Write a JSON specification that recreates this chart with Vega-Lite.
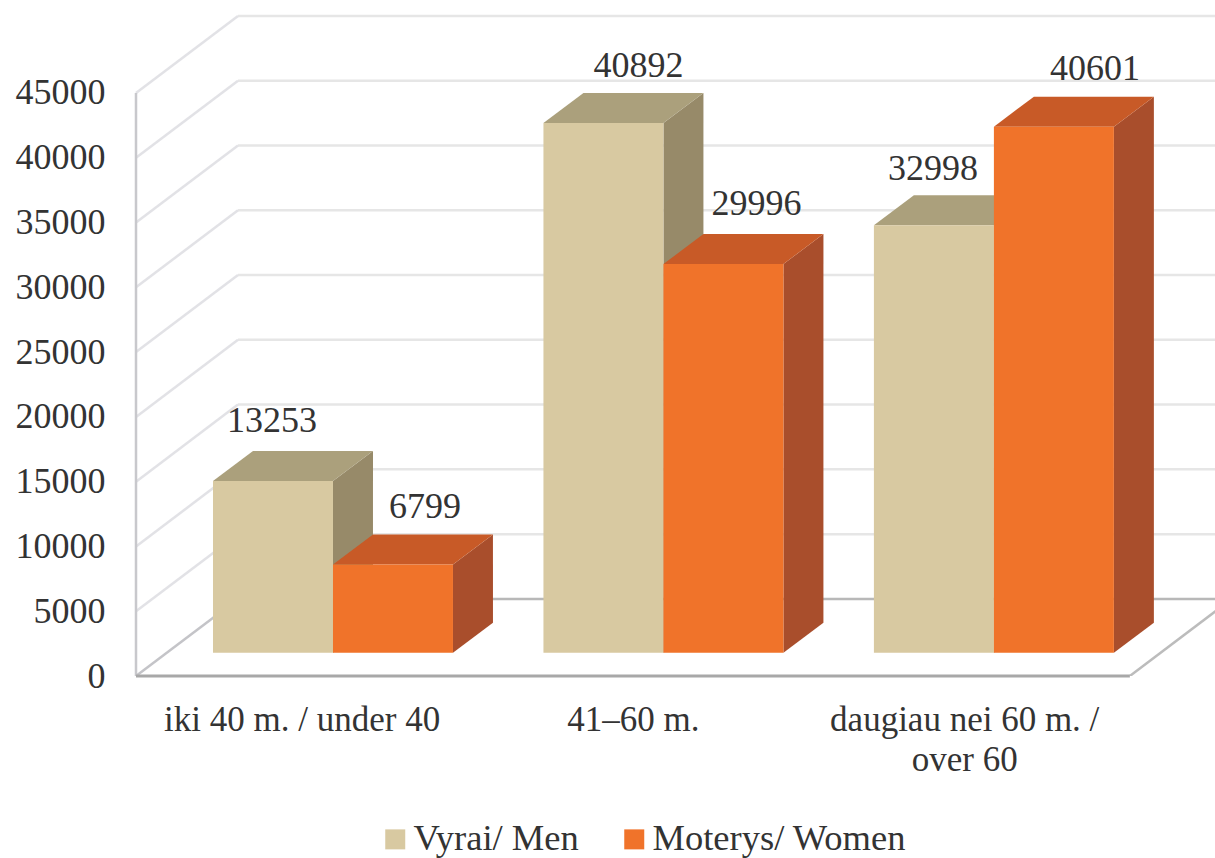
{
"$schema":"https://vega.github.io/schema/vega-lite/v6.json",
"width":1079,"height":676,
"autosize":{"type":"none"},
"padding":{"left":136,"top":0,"right":0,"bottom":182},
"background":"white",
"config":{"view":{"stroke":null},"axis":{"grid":false,"domain":false,"ticks":false,"title":null}},
"datasets":{
"bars":[
{"group":"iki 40 m. / under 40","series":"Vyrai/ Men","value":13253},
{"group":"iki 40 m. / under 40","series":"Moterys/ Women","value":6799},
{"group":"41–60 m.","series":"Vyrai/ Men","value":40892},
{"group":"41–60 m.","series":"Moterys/ Women","value":29996},
{"group":"daugiau nei 60 m. / over 60","series":"Vyrai/ Men","value":32998},
{"group":"daugiau nei 60 m. / over 60","series":"Moterys/ Women","value":40601}
],
"ticks":[{"tick":0},{"tick":5000},{"tick":10000},{"tick":15000},{"tick":20000},{"tick":25000},{"tick":30000},{"tick":35000},{"tick":40000},{"tick":45000}]
},
"layer":[
{"data":{"name":"ticks"},
 "transform":[{"calculate":"0.3079","as":"bx"},{"calculate":"3.3079","as":"ex"},{"calculate":"datum.tick+5950","as":"by"}],
 "mark":{"type":"rule","strokeWidth":2.5,"clip":true},
 "encoding":{
  "x":{"field":"bx","type":"quantitative","title":null,"scale":{"domain":[0,3.257],"nice":false,"zero":false},
   "axis":{"title":null,"values":[0.5,1.5,2.5],"domain":false,"ticks":false,"grid":false,"labelFont":"Liberation Serif","labelFontSize":35,"labelColor":"#333333","labelPadding":26,"labelOverlap":false,"labelFlush":false,"labelLimit":600,"labelLineHeight":40,"labelExpr":"datum.value<1?'iki 40 m. / under 40':datum.value<2?'41–60 m.':['daugiau nei 60 m. /','over 60']"}},
  "x2":{"field":"ex"},
  "y":{"field":"by","type":"quantitative","title":null,"scale":{"domain":[0,52177],"nice":false,"zero":false},
   "axis":{"title":null,"values":[0,5000,10000,15000,20000,25000,30000,35000,40000,45000],"domain":false,"ticks":false,"grid":false,"labelFont":"Liberation Serif","labelFontSize":36,"labelColor":"#333333","labelPadding":31,"format":"d"}},
  "y2":{"field":"by"},
  "color":{"condition":{"test":"datum.tick==0","value":"#b8b8b8"},"value":"#e6e6e6"}
 }},
{"data":{"name":"ticks"},
 "transform":[{"calculate":"0","as":"ax"},{"calculate":"0.3079","as":"bx"},{"calculate":"datum.tick+5950","as":"by"}],
 "mark":{"type":"rule","strokeWidth":2.5},
 "encoding":{
  "x":{"field":"ax","type":"quantitative","title":null},
  "x2":{"field":"bx"},
  "y":{"field":"tick","type":"quantitative","title":null},
  "y2":{"field":"by"},
  "color":{"condition":{"test":"datum.tick==0","value":"#c4c4c8"},"value":"#e2e2e6"}
 }},
{"data":{"name":"ticks"},
 "transform":[{"filter":"datum.tick==45000"},{"calculate":"0","as":"ax"},{"calculate":"0","as":"y0"}],
 "mark":{"type":"rule","stroke":"#c8c8cc","strokeWidth":2.5},
 "encoding":{"x":{"field":"ax","type":"quantitative","title":null},"y":{"field":"tick","type":"quantitative","title":null},"y2":{"field":"y0"}}},
{"data":{"name":"ticks"},
 "transform":[{"filter":"datum.tick==0"},{"calculate":"3","as":"ax"},{"calculate":"3.3079","as":"bx"},{"calculate":"5950","as":"by"}],
 "mark":{"type":"rule","stroke":"#bcbcbc","strokeWidth":2.5,"clip":true},
 "encoding":{"x":{"field":"ax","type":"quantitative","title":null},"x2":{"field":"bx"},"y":{"field":"tick","type":"quantitative","title":null},"y2":{"field":"by"}}},
{"data":{"name":"ticks"},
 "transform":[{"filter":"datum.tick==0"},{"calculate":"0","as":"ax"},{"calculate":"3","as":"bx"}],
 "mark":{"type":"rule","stroke":"#a8a8a8","strokeWidth":3},
 "encoding":{"x":{"field":"ax","type":"quantitative","title":null},"x2":{"field":"bx"},"y":{"field":"tick","type":"quantitative","title":null}}},
{"data":{"name":"bars"},
 "transform":[{"filter":"datum.series=='Vyrai/ Men'"},{"calculate":"indexof(['iki 40 m. / under 40','41–60 m.','daugiau nei 60 m. / over 60'],datum.group)*0.9975+0.2324+0.3622","as":"xe"},{"calculate":"[0,1]","as":"k"},{"flatten":["k"]},{"calculate":"datum.xe+datum.k*0.1207","as":"xk"},{"calculate":"1800+datum.k*2315","as":"yb"},{"calculate":"datum.value+1800+datum.k*2315","as":"yt"}],
 "mark":{"type":"area","color":"#978a69","orient":"vertical"},
 "encoding":{"x":{"field":"xk","type":"quantitative","title":null},"y":{"field":"yt","type":"quantitative","title":null},"y2":{"field":"yb"},"detail":{"field":"group"}}},
{"data":{"name":"bars"},
 "transform":[{"filter":"datum.series=='Vyrai/ Men'"},{"calculate":"indexof(['iki 40 m. / under 40','41–60 m.','daugiau nei 60 m. / over 60'],datum.group)*0.9975+0.2324","as":"xs"},{"calculate":"[0,1]","as":"k"},{"flatten":["k"]},{"calculate":"datum.xs+datum.k*0.1207","as":"xa"},{"calculate":"datum.xs+0.3622+datum.k*0.1207","as":"xb"},{"calculate":"datum.value+1800+datum.k*2315","as":"yt"}],
 "mark":{"type":"area","color":"#aba07c","orient":"horizontal"},
 "encoding":{"x":{"field":"xa","type":"quantitative","title":null},"x2":{"field":"xb"},"y":{"field":"yt","type":"quantitative","title":null},"detail":{"field":"group"}}},
{"data":{"name":"bars"},
 "transform":[{"filter":"datum.series=='Vyrai/ Men'"},{"calculate":"indexof(['iki 40 m. / under 40','41–60 m.','daugiau nei 60 m. / over 60'],datum.group)*0.9975+0.2324","as":"xa"},{"calculate":"datum.xa+0.3622","as":"xb"},{"calculate":"1800","as":"yb"},{"calculate":"datum.value+1800","as":"yt"}],
 "mark":{"type":"rect"},
 "encoding":{"x":{"field":"xa","type":"quantitative","title":null},"x2":{"field":"xb"},"y":{"field":"yt","type":"quantitative","title":null},"y2":{"field":"yb"},
  "color":{"field":"series","type":"nominal","scale":{"domain":["Vyrai/ Men","Moterys/ Women"],"range":["#d8c9a1","#f0732a"]},
   "legend":{"title":null,"orient":"none","legendX":241,"legendY":821,"direction":"horizontal","symbolType":"square","symbolSize":400,"symbolStrokeWidth":0,"labelFont":"Liberation Serif","labelFontSize":36.5,"labelColor":"#333333","labelOffset":0,"labelLimit":500,"columnPadding":37,"symbolOpacity":1}}}},
{"data":{"name":"bars"},
 "transform":[{"filter":"datum.series=='Moterys/ Women'"},{"calculate":"indexof(['iki 40 m. / under 40','41–60 m.','daugiau nei 60 m. / over 60'],datum.group)*0.9975+0.2324+0.7244","as":"xe"},{"calculate":"[0,1]","as":"k"},{"flatten":["k"]},{"calculate":"datum.xe+datum.k*0.1207","as":"xk"},{"calculate":"1800+datum.k*2315","as":"yb"},{"calculate":"datum.value+1800+datum.k*2315","as":"yt"}],
 "mark":{"type":"area","color":"#a94e2c","orient":"vertical"},
 "encoding":{"x":{"field":"xk","type":"quantitative","title":null},"y":{"field":"yt","type":"quantitative","title":null},"y2":{"field":"yb"},"detail":{"field":"group"}}},
{"data":{"name":"bars"},
 "transform":[{"filter":"datum.series=='Moterys/ Women'"},{"calculate":"indexof(['iki 40 m. / under 40','41–60 m.','daugiau nei 60 m. / over 60'],datum.group)*0.9975+0.2324+0.3622","as":"xs"},{"calculate":"[0,1]","as":"k"},{"flatten":["k"]},{"calculate":"datum.xs+datum.k*0.1207","as":"xa"},{"calculate":"datum.xs+0.3622+datum.k*0.1207","as":"xb"},{"calculate":"datum.value+1800+datum.k*2315","as":"yt"}],
 "mark":{"type":"area","color":"#c85a27","orient":"horizontal"},
 "encoding":{"x":{"field":"xa","type":"quantitative","title":null},"x2":{"field":"xb"},"y":{"field":"yt","type":"quantitative","title":null},"detail":{"field":"group"}}},
{"data":{"name":"bars"},
 "transform":[{"filter":"datum.series=='Moterys/ Women'"},{"calculate":"indexof(['iki 40 m. / under 40','41–60 m.','daugiau nei 60 m. / over 60'],datum.group)*0.9975+0.2324+0.3622","as":"xa"},{"calculate":"datum.xa+0.3622","as":"xb"},{"calculate":"1800","as":"yb"},{"calculate":"datum.value+1800","as":"yt"}],
 "mark":{"type":"rect"},
 "encoding":{"x":{"field":"xa","type":"quantitative","title":null},"x2":{"field":"xb"},"y":{"field":"yt","type":"quantitative","title":null},"y2":{"field":"yb"},
  "color":{"field":"series","type":"nominal"}}},
{"data":{"name":"bars"},
 "transform":[{"calculate":"indexof(['iki 40 m. / under 40','41–60 m.','daugiau nei 60 m. / over 60'],datum.group)*0.9975+0.2324+(datum.series=='Vyrai/ Men'?0.1811:0.5433)+({'13253':-0.003,'6799':0.097,'40892':0.106,'29996':0.1,'32998':-0.003,'40601':0.124})[''+datum.value]","as":"lx"},{"calculate":"datum.value+1800+4600-({'13253':0,'6799':154,'40892':231,'29996':0,'32998':231,'40601':154})[''+datum.value]","as":"ly"}],
 "mark":{"type":"text","font":"Liberation Serif","fontSize":36,"color":"#333333","align":"center","baseline":"middle"},
 "encoding":{"x":{"field":"lx","type":"quantitative","title":null},"y":{"field":"ly","type":"quantitative","title":null},"text":{"field":"value","type":"quantitative","format":"d"}}}
]
}
